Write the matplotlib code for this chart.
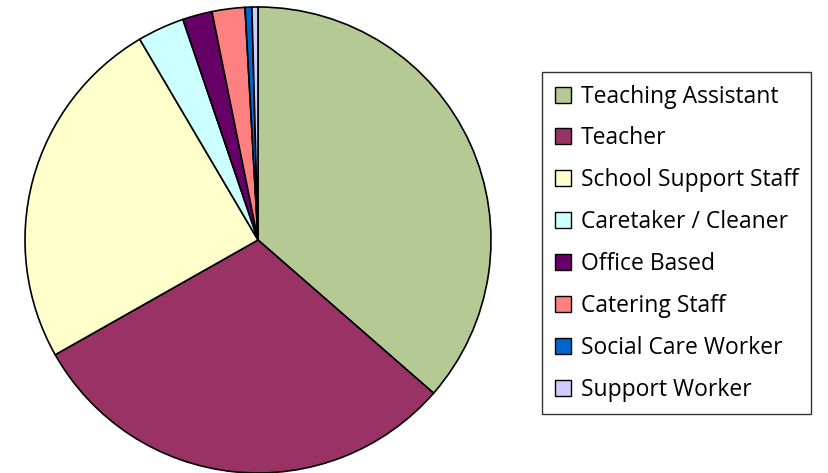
import matplotlib
matplotlib.use("Agg")
import matplotlib.pyplot as plt
from matplotlib.patches import Patch

# values (share of the pie, in degrees-ish units)
roles = ["Teaching Assistant", "Teacher", "School Support Staff", "Caretaker / Cleaner",
         "Office Based", "Catering Staff", "Social Care Worker", "Support Worker"]
shares = [131.1, 109.4, 89.0, 11.7, 7.4, 8.2, 1.7, 1.5]
colours = ["#B5C994", "#993366", "#FFFFCC", "#CCFFFF",
           "#660066", "#FF8080", "#0066CC", "#CCCCFF"]

fig = plt.figure(figsize=(8.29, 4.73), dpi=100)
plt.rcParams['font.family'] = ['Open Sans', 'DejaVu Sans']

ax = fig.add_axes([25 / 829, 0.0, 466 / 829, 466 / 473])
ax.pie(shares, colors=colours, startangle=90, counterclock=False,
       wedgeprops=dict(edgecolor="black", linewidth=1.2))
ax.set_xlim(-1.0, 1.0)
ax.set_ylim(-1.0, 1.0)
ax.set_aspect("equal")
ax.axis("off")

handles = [Patch(facecolor=c, edgecolor="black", linewidth=1.0) for c in colours]
leg = fig.legend(handles, roles, loc="upper left",
                 bbox_to_anchor=(542 / 829, 1 - 72 / 473),
                 fontsize=16.5, frameon=True, fancybox=False,
                 handlelength=0.7, handleheight=0.7, handletextpad=0.45,
                 labelspacing=0.78, borderpad=0.55, borderaxespad=0)
leg.get_frame().set_edgecolor("black")
leg.get_frame().set_linewidth(1.0)

fig.savefig("out.png", dpi=100)
